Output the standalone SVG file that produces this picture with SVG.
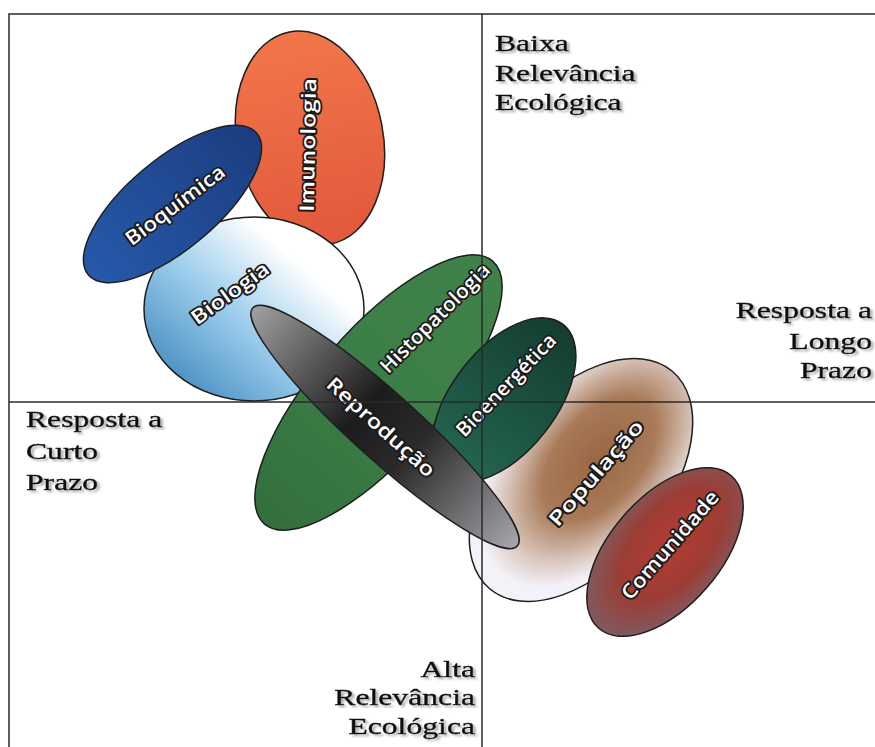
<svg xmlns="http://www.w3.org/2000/svg" width="875" height="747" viewBox="0 0 875 747">
<style>
.shape{stroke:#1e1e1e;stroke-width:1.5}
.lbl{font-family:"Open Sans","Liberation Sans",sans-serif;font-size:20px;font-weight:600;fill:#ffffff;stroke:#1a1a1a;stroke-width:3.5;stroke-linejoin:round;paint-order:stroke;text-anchor:middle}
.ax{font-family:"Liberation Serif","Times New Roman",serif;font-size:24px;fill:#111111;stroke:#111111;stroke-width:0.45;filter:url(#sh)}
.end{text-anchor:end}
.axis{stroke:#2a2a2a;stroke-width:1.5;fill:none}
</style>
<defs>
<filter id="sh" x="-10%" y="-30%" width="130%" height="170%">
<feDropShadow dx="2" dy="2" stdDeviation="1" flood-color="#9a9a9a" flood-opacity="0.8"/>
</filter>
<linearGradient id="gImun" x1="0" y1="0" x2="0" y2="1">
<stop offset="0" stop-color="#f2764a"/><stop offset="1" stop-color="#e2583b"/>
</linearGradient>
<linearGradient id="gBioq" x1="0" y1="0" x2="1" y2="0">
<stop offset="0" stop-color="#2659aa"/><stop offset="1" stop-color="#1c3d80"/>
</linearGradient>
<linearGradient id="gBiol" x1="0" y1="0.95" x2="0.85" y2="0.15">
<stop offset="0" stop-color="#2f7db5"/><stop offset="0.5" stop-color="#9ccdec"/><stop offset="0.85" stop-color="#ffffff"/>
</linearGradient>
<linearGradient id="gHist" x1="0" y1="0" x2="1" y2="0">
<stop offset="0" stop-color="#336f3d"/><stop offset="0.5" stop-color="#3c7e47"/><stop offset="1" stop-color="#3f8249"/>
</linearGradient>
<linearGradient id="gBioe" x1="0" y1="0" x2="1" y2="0">
<stop offset="0" stop-color="#246853"/><stop offset="1" stop-color="#143d31"/>
</linearGradient>
<linearGradient id="gRepr" x1="0" y1="0" x2="1" y2="0">
<stop offset="0" stop-color="#a0a0a0"/><stop offset="0.42" stop-color="#1c1c1c"/><stop offset="0.6" stop-color="#2a2a2a"/><stop offset="1" stop-color="#a6a6ac"/>
</linearGradient>
<radialGradient id="gPop" cx="0.6" cy="0.5" r="0.56">
<stop offset="0" stop-color="#9a6741"/><stop offset="0.45" stop-color="#a87a58"/><stop offset="0.75" stop-color="#d8c5bb"/><stop offset="0.95" stop-color="#f4f2f9"/>
</radialGradient>
<radialGradient id="gCom" cx="0.55" cy="0.5" r="0.6">
<stop offset="0" stop-color="#b23c30"/><stop offset="0.55" stop-color="#9c3d35"/><stop offset="1" stop-color="#7a6068"/>
</radialGradient>
</defs>
<rect width="875" height="747" fill="#ffffff"/>

<g id="imunologia">
<ellipse class="shape" transform="translate(310,138) rotate(-11)" rx="73" ry="108" fill="url(#gImun)"/>
<text class="lbl" transform="translate(308,145) rotate(-89)" dy="7" textLength="134" lengthAdjust="spacingAndGlyphs">Imunologia</text>
</g>
<g id="biologia">
<ellipse class="shape" transform="translate(254,309)" rx="110" ry="92" fill="url(#gBiol)"/>
<text class="lbl" transform="translate(230,293) rotate(-36)" dy="7" textLength="91" lengthAdjust="spacingAndGlyphs">Biologia</text>
</g>
<g id="bioquimica">
<ellipse class="shape" transform="translate(172.5,204) rotate(-40)" rx="110" ry="45" fill="url(#gBioq)"/>
<text class="lbl" transform="translate(175,205) rotate(-37)" dy="7" textLength="119" lengthAdjust="spacingAndGlyphs">Bioquímica</text>
</g>
<g id="histopatologia">
<ellipse class="shape" transform="translate(378.5,392.5) rotate(-49)" rx="174" ry="63" fill="url(#gHist)"/>
<text class="lbl" transform="translate(435,318) rotate(-45)" dy="7" textLength="146" lengthAdjust="spacingAndGlyphs">Histopatologia</text>
</g>
<g id="populacao">
<ellipse class="shape" transform="translate(581,480) rotate(-50)" rx="142" ry="84" fill="url(#gPop)"/>
<text class="lbl" transform="translate(596,473) rotate(-49)" dy="7" textLength="133" lengthAdjust="spacingAndGlyphs">População</text>
</g>
<g id="bioenergetica">
<ellipse class="shape" transform="translate(504,400) rotate(-52)" rx="96" ry="52" fill="url(#gBioe)"/>
<text class="lbl" transform="translate(506,385) rotate(-46)" dy="7" textLength="134" lengthAdjust="spacingAndGlyphs">Bioenergética</text>
</g>
<g id="reproducao">
<ellipse class="shape" transform="translate(385,427) rotate(42)" rx="178" ry="33" fill="url(#gRepr)"/>
<text class="lbl" transform="translate(381,427) rotate(42)" dy="7" textLength="138" lengthAdjust="spacingAndGlyphs">Reprodução</text>
</g>
<g id="comunidade">
<ellipse class="shape" transform="translate(665,552) rotate(-49)" rx="101" ry="55" fill="url(#gCom)"/>
<text class="lbl" transform="translate(670,545) rotate(-49)" dy="7" textLength="137" lengthAdjust="spacingAndGlyphs">Comunidade</text>
</g>

<g id="axes">
<path class="axis" d="M9,747 V14 H875"/>
<line class="axis" x1="482" y1="14" x2="482" y2="747"/>
<line class="axis" x1="9" y1="402" x2="875" y2="402"/>
</g>

<g id="label-top">
<text class="ax" transform="translate(495,51) scale(1.32,1)">Baixa</text>
<text class="ax" transform="translate(495,81) scale(1.32,1)">Relevância</text>
<text class="ax" transform="translate(495,110) scale(1.32,1)">Ecológica</text>
</g>
<g id="label-right">
<text class="ax end" transform="translate(872,318) scale(1.32,1)">Resposta a</text>
<text class="ax end" transform="translate(872,349) scale(1.32,1)">Longo</text>
<text class="ax end" transform="translate(872,378) scale(1.32,1)">Prazo</text>
</g>
<g id="label-left">
<text class="ax" transform="translate(26,427) scale(1.32,1)">Resposta a</text>
<text class="ax" transform="translate(26,459) scale(1.32,1)">Curto</text>
<text class="ax" transform="translate(26,490) scale(1.32,1)">Prazo</text>
</g>
<g id="label-bottom">
<text class="ax end" transform="translate(475,677) scale(1.32,1)">Alta</text>
<text class="ax end" transform="translate(475,705) scale(1.32,1)">Relevância</text>
<text class="ax end" transform="translate(475,734) scale(1.32,1)">Ecológica</text>
</g>
</svg>
